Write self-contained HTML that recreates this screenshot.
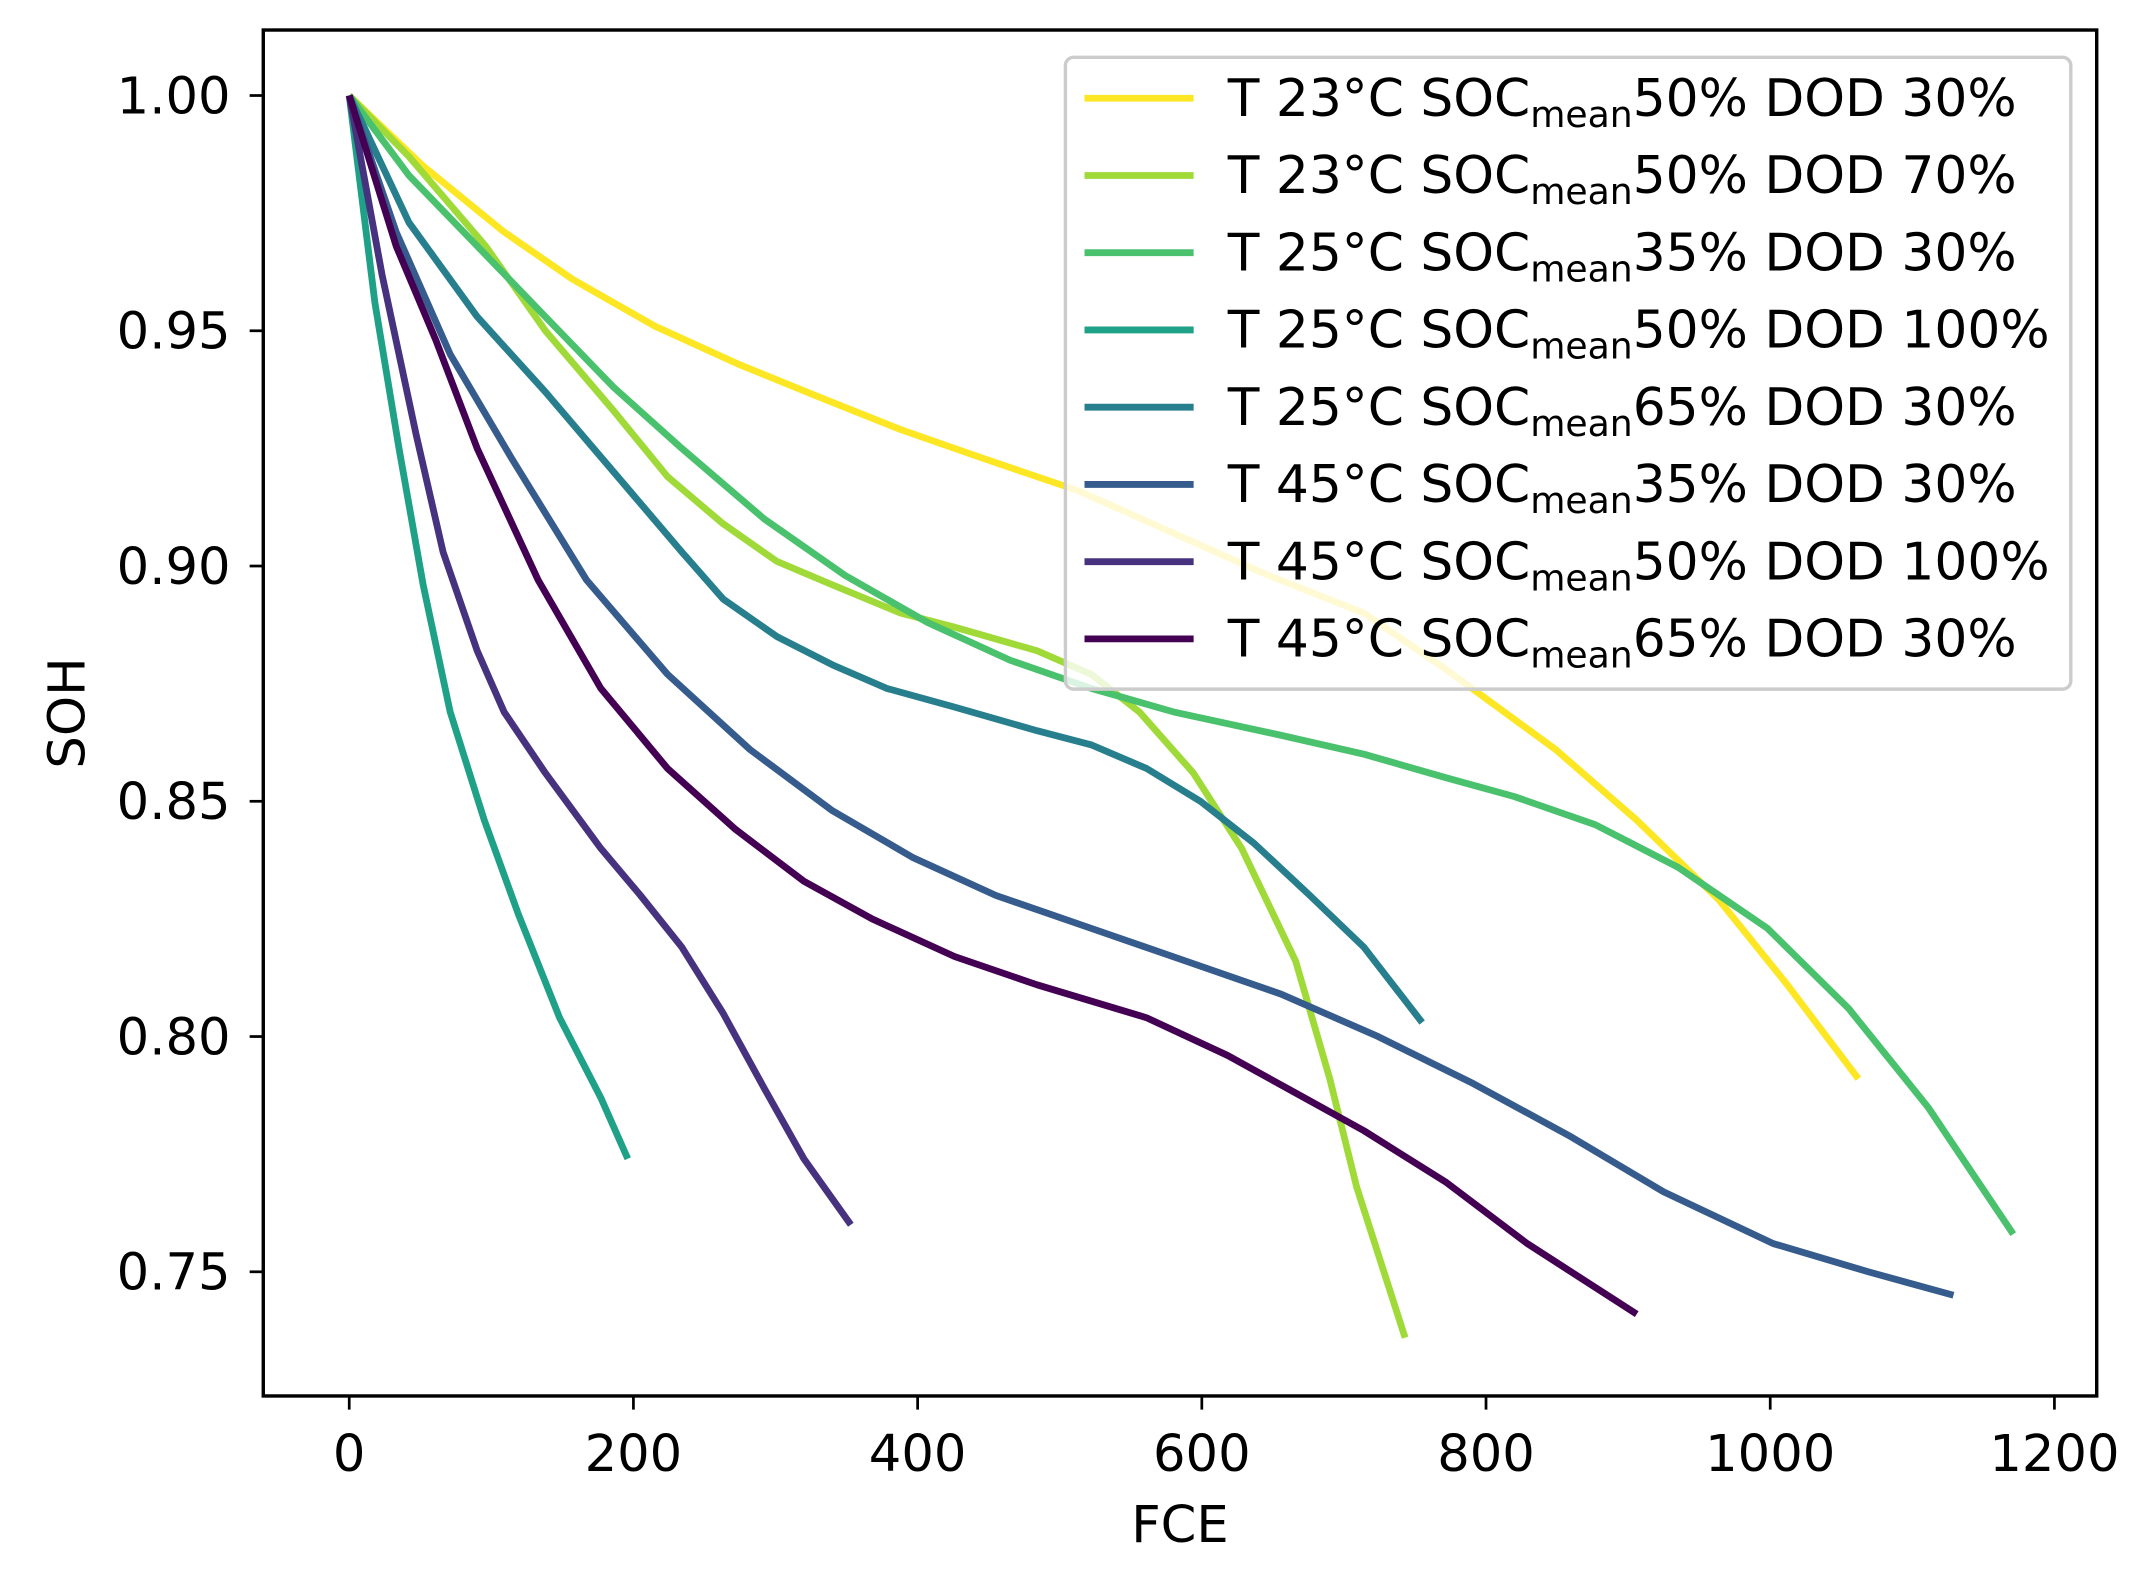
<!DOCTYPE html>
<html><head><meta charset="utf-8"><style>
html,body{margin:0;padding:0;background:#fff}
svg{display:block}
text{font-family:"DejaVu Sans","Liberation Sans",sans-serif;fill:#000}
</style></head><body>
<svg id="chart" width="2139" height="1572" viewBox="0 0 1568 1152" preserveAspectRatio="none" xmlns="http://www.w3.org/2000/svg">
<g id="plot"></g>
</svg>
<script>
const xTicks = [0,200,400,600,800,1000,1200];
const yTicks = [0.75,0.80,0.85,0.90,0.95,1.00];
const seriesNames = ["T 23°C SOC|50% DOD 30%","T 23°C SOC|50% DOD 70%","T 25°C SOC|35% DOD 30%","T 25°C SOC|50% DOD 100%","T 25°C SOC|65% DOD 30%","T 45°C SOC|35% DOD 30%","T 45°C SOC|50% DOD 100%","T 45°C SOC|65% DOD 30%"];
const seriesColors = ["#fde725","#a0da39","#4ac16d","#1fa187","#277f8e","#365c8d","#46327e","#440154"];
const s0x=[0,52,109,157,215,273,330,388,445,513,580,647,714,772,849,906,964,1012,1062];
const s0y=[1,0.985,0.971,0.961,0.951,0.943,0.936,0.929,0.923,0.916,0.907,0.898,0.890,0.878,0.861,0.846,0.829,0.811,0.791];
const s1x=[0,42,96,138,186,224,263,301,340,388,426,484,522,556,594,628,666,690,709,743];
const s1y=[1,0.987,0.968,0.950,0.933,0.919,0.909,0.901,0.896,0.890,0.887,0.882,0.877,0.869,0.856,0.840,0.816,0.791,0.768,0.736];
const s2x=[0,42,90,138,186,234,292,349,407,465,522,580,656,714,772,820,877,935,998,1055,1111,1171];
const s2y=[1,0.983,0.968,0.953,0.938,0.925,0.910,0.898,0.888,0.880,0.874,0.869,0.864,0.860,0.855,0.851,0.845,0.836,0.823,0.806,0.785,0.758];
const s3x=[0,18,35,52,71,95,119,148,177,196];
const s3y=[1,0.956,0.925,0.896,0.869,0.846,0.826,0.804,0.787,0.774];
const s4x=[0,42,90,138,186,234,263,301,340,378,426,484,522,561,599,637,676,714,755];
const s4y=[1,0.973,0.953,0.937,0.920,0.903,0.893,0.885,0.879,0.874,0.870,0.865,0.862,0.857,0.850,0.841,0.830,0.819,0.803];
const s5x=[0,33,71,114,167,224,282,340,397,455,522,589,656,724,791,858,925,1002,1069,1129];
const s5y=[1,0.971,0.945,0.923,0.897,0.877,0.861,0.848,0.838,0.830,0.823,0.816,0.809,0.800,0.790,0.779,0.767,0.756,0.750,0.745];
const s6x=[0,23,47,66,90,109,138,177,205,234,263,292,320,353];
const s6y=[1,0.962,0.928,0.903,0.882,0.869,0.856,0.840,0.830,0.819,0.805,0.789,0.774,0.760];
const s7x=[0,33,61,90,133,177,224,272,320,368,426,484,561,618,666,714,772,829,906];
const s7y=[1,0.968,0.948,0.925,0.897,0.874,0.857,0.844,0.833,0.825,0.817,0.811,0.804,0.796,0.788,0.780,0.769,0.756,0.741];
const allX=[s0x,s1x,s2x,s3x,s4x,s5x,s6x,s7x];
const allY=[s0y,s1y,s2y,s3y,s4y,s5y,s6y,s7y];

const NS="http://www.w3.org/2000/svg";
const L=193,R=1537,T=22,B=1023;
function xs(v){return 256+(v-0)*(1506-256)/1200;}
function ys(v){return 70+(1-v)*(932-70)/0.25;}
const g=document.getElementById('plot');
function mk(tag,attrs,parent){const e=document.createElementNS(NS,tag);for(const k in attrs)e.setAttribute(k,attrs[k]);(parent||g).appendChild(e);return e;}

allX.forEach((xa,i)=>{
  const d=xa.map((x,j)=>(j?'L':'M')+xs(x).toFixed(1)+','+ys(allY[i][j]).toFixed(1)).join(' ');
  const p=mk('path',{d:d,fill:'none',stroke:seriesColors[i],'stroke-width':5,'stroke-linejoin':'round','stroke-linecap':'butt'});
  
  
});
const fr=mk('rect',{x:L,y:T,width:R-L,height:B-T,fill:'none',stroke:'#000','stroke-width':2.5});


xTicks.forEach(v=>{
  const tk=mk('line',{x1:xs(v),x2:xs(v),y1:B,y2:B+10,stroke:'#000','stroke-width':2});
  
  
  const t=mk('text',{x:xs(v),y:B+55,'text-anchor':'middle','font-size':37.5});
  t.textContent=v;
  
  
});
yTicks.forEach(v=>{
  const tk=mk('line',{x1:L-10,x2:L,y1:ys(v),y2:ys(v),stroke:'#000','stroke-width':2});
  
  
  const t=mk('text',{x:L-24,y:ys(v)+13,'text-anchor':'end','font-size':37.5});
  t.textContent=v.toFixed(2);
  
  
});
const xl=mk('text',{x:(L+R)/2,y:1130,'text-anchor':'middle','font-size':37.5});
xl.textContent='FCE';


const yc=(T+B)/2;
const yl=mk('text',{x:62,y:yc,'text-anchor':'middle','font-size':37.5,transform:'rotate(-90 62 '+yc+')'});
yl.textContent='SOH';


const lg=mk('g',{});


mk('rect',{x:781,y:42,width:737,height:463,rx:6,fill:'#fff','fill-opacity':0.8,stroke:'#ccc','stroke-width':2.5},lg);
seriesNames.forEach((n,i)=>{
  const y=72+i*56.6;
  const ln=mk('line',{x1:795,x2:875,y1:y,y2:y,stroke:seriesColors[i],'stroke-width':5},lg);
  
  
  const parts=n.split('|');
  const t=mk('text',{x:900,y:y+13,'font-size':38},lg);
  
  
  const a=mk('tspan',{},t);a.textContent=parts[0];
  const b=mk('tspan',{'font-size':26.5,dy:8},t);b.textContent='mean';
  const c=mk('tspan',{dy:-8},t);c.textContent=parts[1];
});
</script>
</body></html>
